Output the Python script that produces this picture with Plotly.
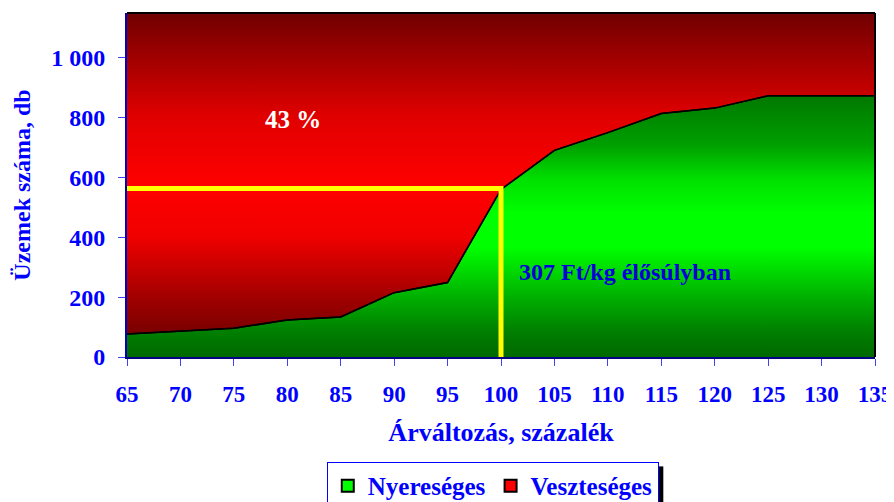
import plotly.graph_objects as go

# Data
arvaltozas = [65, 70, 75, 80, 85, 90, 95, 100, 105, 110, 115, 120, 125, 130, 135]
nyereseges = [77, 87, 96, 124, 134, 215, 249, 560, 691, 750, 814, 832, 873, 873, 873]
y_max = 1150
osszes = [y_max] * len(arvaltozas)
ytick_vals = [0, 200, 400, 600, 800, 1000]
ytick_text = ["0", "200", "400", "600", "800", "1 000"]
xtick_vals = list(range(65, 140, 5))
fedezeti_x = [65, 100, 100]
fedezeti_y = [563, 563, 0]

FONT = "Liberation Serif"
BLUE = "#0000FF"

green_scale = [[0, "#006800"], [0.1, "#008000"], [0.23, "#00B000"], [0.42, "#00FF00"],
               [0.55, "#00FF00"], [0.68, "#00E000"], [0.81, "#00A000"], [1, "#007800"]]
red_scale = [[0, "#600000"], [0.17, "#A00000"], [0.35, "#F00000"], [0.5, "#FF0000"],
             [0.7, "#E00000"], [0.87, "#A00000"], [1, "#700000"]]

fig = go.Figure()
fig.add_trace(go.Scatter(
    x=arvaltozas, y=nyereseges, mode="lines", showlegend=False,
    line=dict(color="black", width=1.5), fill="tozeroy",
    fillgradient=dict(type="vertical", start=0, stop=max(nyereseges), colorscale=green_scale),
    fillcolor="#00C000", hoverinfo="skip",
))
fig.add_trace(go.Scatter(
    x=arvaltozas, y=osszes, mode="lines", showlegend=False,
    line=dict(color="black", width=0), fill="tonexty",
    fillgradient=dict(type="vertical", start=0, stop=y_max, colorscale=red_scale),
    fillcolor="#E00000", hoverinfo="skip",
))
fig.add_trace(go.Scatter(
    x=arvaltozas, y=nyereseges, mode="lines", showlegend=False,
    line=dict(color="black", width=1.5), hoverinfo="skip",
))
fig.add_trace(go.Scatter(
    x=fedezeti_x, y=fedezeti_y, mode="lines", showlegend=False,
    line=dict(color="#FFFF00", width=5), hoverinfo="skip",
))
# legend entries
fig.add_trace(go.Bar(x=[None], y=[None], name="Nyereséges",
                     marker=dict(color="#00FF00", line=dict(color="black", width=2))))
fig.add_trace(go.Bar(x=[None], y=[None], name="Veszteséges",
                     marker=dict(color="#FF0000", line=dict(color="black", width=2))))

fig.add_annotation(x=80.5, y=795, text="43 %", showarrow=False,
                   font=dict(family=FONT, size=25, color="white", weight="bold"))
fig.add_annotation(x=101.5, y=285, text="307 Ft/kg élősúlyban", showarrow=False,
                   xanchor="left",
                   font=dict(family=FONT, size=24, color="#0000DD", weight="bold"))

# border top/right black
fig.add_shape(type="line", xref="paper", yref="paper", x0=0, x1=1, y0=1, y1=1,
              line=dict(color="black", width=2))
fig.add_shape(type="line", xref="paper", yref="paper", x0=1, x1=1, y0=0, y1=1,
              line=dict(color="black", width=2))
# legend shadow
fig.add_shape(type="rect", xref="paper", yref="paper", x0=0.711, x1=0.717, y0=-0.45, y1=-0.318,
              fillcolor="black", line=dict(width=0))

fig.update_layout(
    width=894, height=502,
    margin=dict(l=119, r=27, t=5, b=153, autoexpand=False),
    paper_bgcolor="white", plot_bgcolor="white",
    showlegend=True,
    legend=dict(orientation="h", x=0.489, xanchor="center", y=-0.305, yanchor="top",
                bordercolor=BLUE, borderwidth=1, bgcolor="white",
                font=dict(family=FONT, size=25, color=BLUE, weight="bold"),
                itemwidth=30, traceorder="normal"),
    xaxis=dict(range=[65, 135], tickvals=xtick_vals, ticks="outside", ticklen=7,
               tickcolor="#4040FF", showline=True, linecolor="#000080", linewidth=2,
               showgrid=False, zeroline=False, automargin=False, ticklabelstandoff=8,
               tickfont=dict(family=FONT, size=23, color=BLUE, weight="bold"),
               title=dict(text="Árváltozás, százalék", standoff=17,
                          font=dict(family=FONT, size=26, color=BLUE, weight="bold"))),
    yaxis=dict(range=[0, y_max], tickvals=ytick_vals, ticktext=ytick_text,
               ticks="outside", ticklen=7, tickcolor="#4040FF", showline=True,
               linecolor="#0000C0", linewidth=2, showgrid=False, zeroline=False,
               automargin=False, ticklabelstandoff=8,
               tickfont=dict(family=FONT, size=24, color=BLUE, weight="bold"),
               title=dict(text="Üzemek száma, db", standoff=14,
                          font=dict(family=FONT, size=24, color=BLUE, weight="bold"))),
    barmode="overlay",
)

fig.write_html("out.html")
